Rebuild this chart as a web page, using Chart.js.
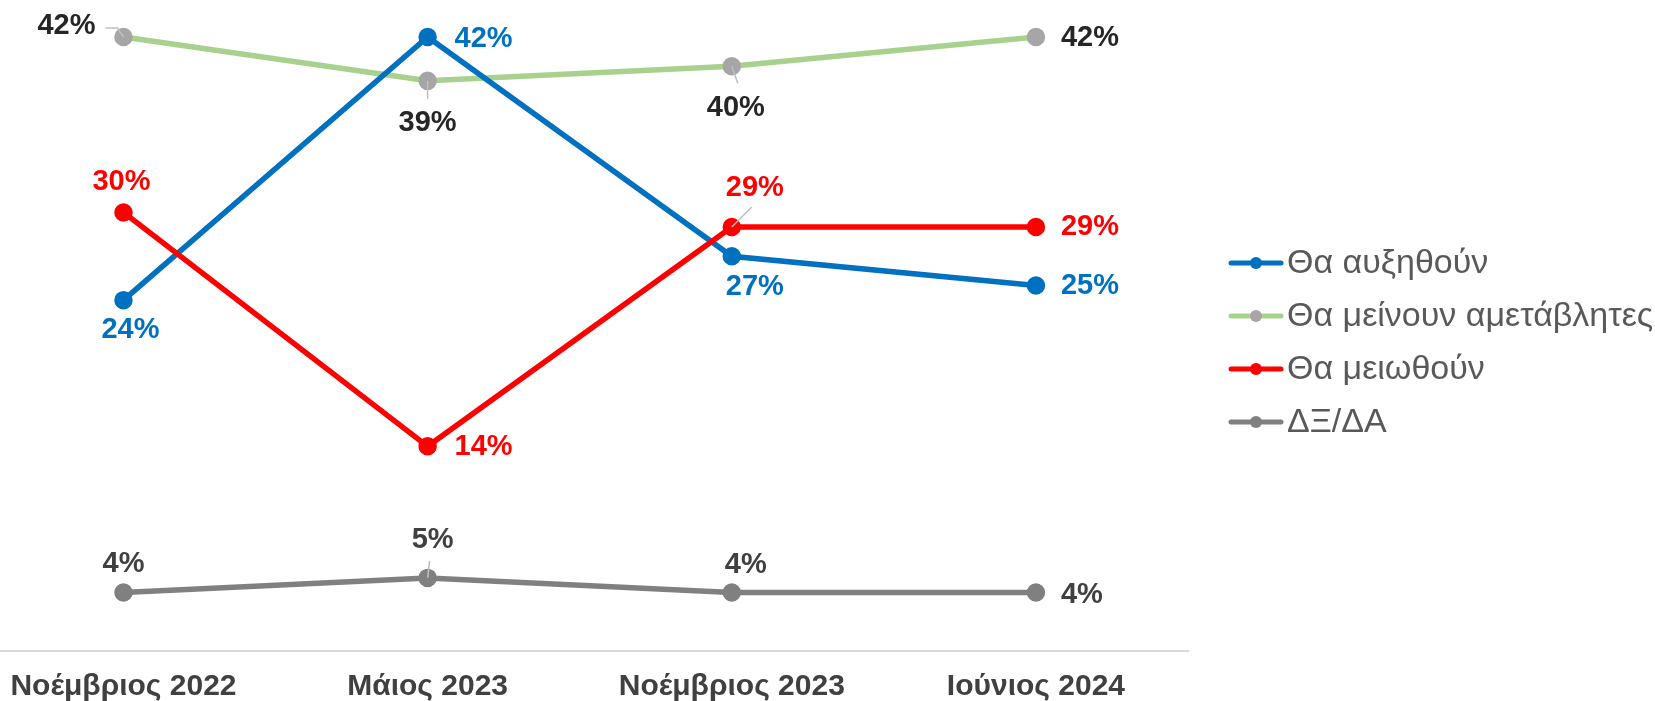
<!DOCTYPE html>
<html lang="el">
<head>
<meta charset="UTF-8">
<title>Chart</title>
<style>
  html, body { margin: 0; padding: 0; background: #fff; }
  #wrap { width: 1655px; height: 701px; }
</style>
</head>
<body>
<div id="wrap"><canvas id="chart" width="1655" height="701"></canvas></div>

<script src="https://cdn.jsdelivr.net/npm/chart.js"></script>
<script>
// data
const categories = ['Νοέμβριος 2022', 'Μάιος 2023', 'Νοέμβριος 2023', 'Ιούνιος 2024'];
const seriesNames = ['Θα αυξηθούν', 'Θα μείνουν αμετάβλητες', 'Θα μειωθούν', 'ΔΞ/ΔΑ'];
const increase = [24, 42, 27, 25];
const unchanged = [42, 39, 40, 42];
const decrease = [30, 14, 29, 29];
const dkna = [4, 5, 4, 4];

const FONT = '"Liberation Sans", Arial, sans-serif';

// label placement: dx, dy from point (text centre), optional leader end
const placeIncrease = [{dx: 7, dy: 30}, {dx: 56, dy: 2}, {dx: 23, dy: 31}, {dx: 54, dy: 0}];
const placeUnchanged = [{dx: -57, dy: -11, lead: [[-6, -9], [-18, -9]]}, {dx: 0, dy: 42, lead: [[0, 18]]},
                        {dx: 4, dy: 42, lead: [[6, 17]]}, {dx: 54, dy: 1}];
const placeDecrease = [{dx: -2, dy: -30}, {dx: 56, dy: 1}, {dx: 23, dy: -39, lead: [[20, -20]]}, {dx: 54, dy: 0}];
const placeDkna = [{dx: 0, dy: -29}, {dx: 5, dy: -38, lead: [[2, -17]]}, {dx: 14, dy: -28}, {dx: 46, dy: 2}];

const toPoints = arr => arr.map((v, i) => ({x: i, y: v}));

function series(name, values, color, pointColor, labelColor, places, order) {
    return {
        label: name,
        data: toPoints(values),
        borderColor: color,
        backgroundColor: pointColor,
        pointBackgroundColor: pointColor,
        pointBorderColor: pointColor,
        borderWidth: 5.5,
        pointRadius: 6.5,
        pointHoverRadius: 6.5,
        tension: 0,
        labelColor: labelColor,
        places: places,
        order: order
    };
}

const datasets = [
    series(seriesNames[0], increase, '#0070C0', '#0070C0', '#0070C0', placeIncrease, 2),
    series(seriesNames[1], unchanged, '#A9D18E', '#A6A6A6', '#262626', placeUnchanged, 3),
    series(seriesNames[2], decrease, '#FF0000', '#FF0000', '#FF0000', placeDecrease, 1),
    series(seriesNames[3], dkna, '#808080', '#808080', '#404040', placeDkna, 4)
];

// value labels + leader lines
const pctLabels = {
    id: 'pctLabels',
    afterDatasetsDraw(chart) {
        const ctx = chart.ctx;
        ctx.save();
        chart.data.datasets.forEach((ds, di) => {
            const meta = chart.getDatasetMeta(di);
            meta.data.forEach((pt, i) => {
                const p = ds.places[i];
                if (p.lead) {
                    ctx.strokeStyle = '#BFBFBF';
                    ctx.lineWidth = 1.5;
                    ctx.beginPath();
                    ctx.moveTo(pt.x, pt.y);
                    p.lead.forEach(l => ctx.lineTo(pt.x + l[0], pt.y + l[1]));
                    ctx.stroke();
                }
                ctx.fillStyle = ds.labelColor;
                ctx.font = 'bold 29px ' + FONT;
                ctx.textAlign = 'center';
                ctx.textBaseline = 'middle';
                ctx.fillText(ds.data[i].y + '%', pt.x + p.dx, pt.y + p.dy);
            });
        });
        ctx.restore();
    }
};

// legend on the right: line with a dot, then the name
const sideLegend = {
    id: 'sideLegend',
    afterDraw(chart) {
        const ctx = chart.ctx;
        ctx.save();
        chart.data.datasets.forEach((ds, i) => {
            const y = 263 + i * 53;
            ctx.strokeStyle = ds.borderColor;
            ctx.lineWidth = 5;
            ctx.lineCap = 'round';
            ctx.beginPath();
            ctx.moveTo(1231, y);
            ctx.lineTo(1281, y);
            ctx.stroke();
            ctx.fillStyle = ds.pointBackgroundColor;
            ctx.beginPath();
            ctx.arc(1256, y, 6, 0, Math.PI * 2);
            ctx.fill();
            ctx.fillStyle = '#595959';
            ctx.font = '34px ' + FONT;
            ctx.textAlign = 'left';
            ctx.textBaseline = 'middle';
            ctx.fillText(ds.label, 1287, y + 1);
        });
        ctx.restore();
    }
};

new Chart(document.getElementById('chart'), {
    type: 'line',
    data: { datasets: datasets },
    options: {
        responsive: false,
        animation: false,
        layout: { autoPadding: false, padding: { left: 0, right: 467, top: 0, bottom: 0 } },
        scales: {
            x: {
                type: 'linear',
                min: -0.406,
                max: 3.5,
                afterBuildTicks: axis => { axis.ticks = categories.map((c, i) => ({ value: i })); },
                afterFit: axis => {
                    axis.height = 50;
                    axis.paddingLeft = 0;
                    axis.paddingRight = 0;
                },
                grid: { display: false, drawTicks: false },
                border: { display: true, color: '#D9D9D9', width: 2 },
                ticks: {
                    autoSkip: false,
                    maxRotation: 0,
                    padding: 18,
                    color: '#404040',
                    font: { family: FONT, size: 30, weight: 'bold' },
                    callback: v => categories[v]
                }
            },
            y: {
                display: false,
                min: 0,
                max: 44.53
            }
        },
        plugins: {
            legend: { display: false },
            tooltip: { enabled: false }
        }
    },
    plugins: [pctLabels, sideLegend]
});
</script>
</body>
</html>
